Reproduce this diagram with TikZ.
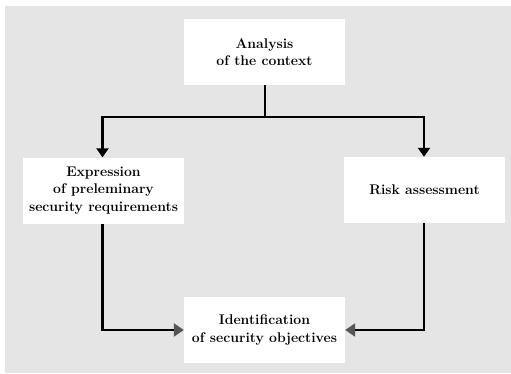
\documentclass[tikz,border=0pt]{standalone}
\usetikzlibrary{arrows.meta}
\definecolor{bgc}{HTML}{E5E5E5}
\definecolor{tipgrey}{HTML}{555555}
\tikzset{
  box/.style={fill=white, draw=none, inner sep=0pt, align=center, font=\bfseries\fontsize{14}{17.3}\selectfont, minimum height=66pt},
  conn/.style={line width=2.8pt, -{Triangle[length=9pt,width=12pt]}},
  conng/.style={line width=2.8pt, -{Triangle[length=10pt,width=13pt,color=tipgrey]}},
}
\begin{document}
\begin{tikzpicture}[x=1pt,y=-1pt]
\useasboundingbox (0,0) rectangle (511,373);
\fill[bgc] (5,6) rectangle (511,373);
\node[box, minimum width=161pt] (ana) at (264.5,52) {Analysis\\of the context};
\node[box, minimum width=161pt] (exp) at (103.5,190.5) {Expression\\of preleminary\\security requirements};
\node[box, minimum width=161pt] (risk) at (424.5,190) {Risk assessment};
\node[box, minimum width=161pt] (ide) at (264.5,330) {Identification\\of security objectives};
\coordinate (j) at (265,117);
\draw[line width=2.8pt] (ana.south -| j) -- (j);
\draw[conn] (j) -| ([xshift=-1pt]exp.north);
\draw[conn] (j) -| ([xshift=-0.5pt]risk.north);
\draw[conng] ([xshift=-1pt]exp.south) |- (ide.west);
\draw[conng] ([xshift=-0.5pt]risk.south) |- (ide.east);
\end{tikzpicture}
\end{document}
